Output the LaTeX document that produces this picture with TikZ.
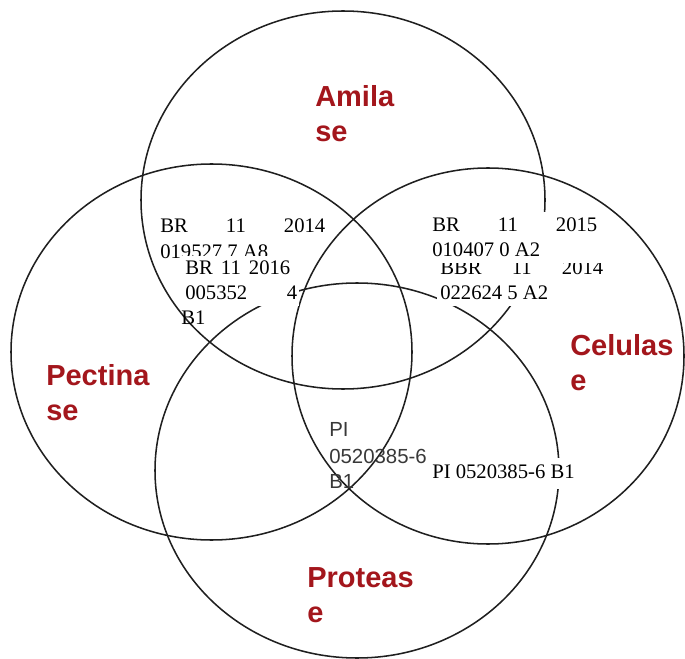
\documentclass[tikz,border=0pt]{standalone}
\usepackage{fontspec}
\setmainfont{Liberation Serif}
\setsansfont{Liberation Sans}
\definecolor{labelred}{RGB}{163,22,28}
\begin{document}
\begin{tikzpicture}[x=0.75pt,y=-0.75pt,
  setname/.style={font=\sffamily\bfseries\fontsize{21.75}{26}\selectfont,
    text=labelred, anchor=base west, inner sep=0pt},
  patent/.style={font=\fontsize{15.5}{18}\selectfont, anchor=base west, inner sep=0pt},
  patentsans/.style={font=\sffamily\fontsize{15.3}{18}\selectfont, text=black!78,
    anchor=base west, inner sep=0pt},
  ring/.style={draw=black!88, line width=1.15pt},
  cover/.style={fill=white}]
\useasboundingbox (0,0) rectangle (685,659);

% the four sets
\draw[ring] (343,200) ellipse [x radius=202, y radius=189];   % Amilase
\draw[ring] (211.5,352) ellipse [x radius=200.5, y radius=188]; % Pectinase
\draw[ring] (488,356) ellipse [x radius=196, y radius=188];   % Celulase
\draw[ring] (357,470.5) ellipse [x radius=202, y radius=187.5]; % Protease

% set names
\node[setname] (amA) at (315,107) {Amila};
\node[setname] (amB) at (315,142) {se};
\node[setname] (peA) at (46,385) {Pectina};
\node[setname] (peB) at (46,420) {se};
\node[setname] (ceA) at (570,355) {Celulas};
\node[setname] (ceB) at (570,390) {e};
\node[setname] (prA) at (307,587) {Proteas};
\node[setname] (prB) at (307,622) {e};

% patents: Amilase and Pectinase
\node[patent] (p1a) at (160,233) {\hbox to 123.75pt{BR\hfill 11\hfill 2014}};
\node[patent] (p1b) at (160,258) {019527 7 A8};
\fill[cover] (180,256) rectangle (299,306);
\node[patent] (p2a) at (185,274) {\hbox to 78.75pt{BR\hfill 11\hfill 2016}};
\node[patent] (p2b) at (185,300) {\hbox to 84pt{005352\hfill 4}};
\node[patent] (p2c) at (181,325) {B1};

% patents: Amilase and Celulase
\fill[cover] (437,258) rectangle (606,306);
\node[patent] (p4a) at (440,274) {\hbox to 122.25pt{BBR\hfill 11\hfill 2014}};
\node[patent] (p4b) at (440,300) {022624 5 A2};
\fill[cover] (429,212) rectangle (602,263);
\node[patent] (p3a) at (432,232) {\hbox to 123.75pt{BR\hfill 11\hfill 2015}};
\node[patent] (p3b) at (432,257) {010407 0 A2};

% patents: Protease
\node[patentsans] (p5a) at (329,436) {PI};
\node[patentsans] (p5b) at (329,463) {0520385-6};
\node[patentsans] (p5c) at (329,488) {B1};
\fill[cover] (429,458) rectangle (582,489);
\node[patent] (p6) at (432,478) {PI 0520385-6 B1};
\end{tikzpicture}
\end{document}
